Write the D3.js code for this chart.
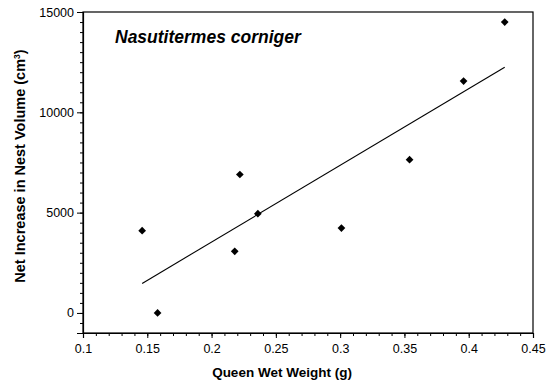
<!DOCTYPE html>
<html lang="en">
<head>
    <title>Nasutitermes corniger</title>
    <script src="https://d3js.org/d3.v7.min.js"></script>
    <style>
        body {
            margin: 0;
            background: white;
        }
        text {
            font-family: "Liberation Sans", Arial, Helvetica, sans-serif;
            fill: #000;
        }
    </style>
</head>
<body>
<svg id="target" width="552" height="383"></svg>
<script type="text/javascript">
    // queen wet weight (g) vs net increase in nest volume (cm3)
    const queenWeight = [0.146, 0.158, 0.218, 0.222, 0.236, 0.301, 0.354, 0.396, 0.428];
    const volumeIncrease = [4100, 0, 3070, 6900, 4950, 4230, 7640, 11560, 14500];
    // fitted line end points
    const fitX = [0.146, 0.428];
    const fitY = [1470, 12250];
    const xTicks = [0.1, 0.15, 0.2, 0.25, 0.3, 0.35, 0.4, 0.45];
    const yTicks = [0, 5000, 10000, 15000];

    const svg = d3.select('#target');
    const margin = {left: 83, right: 19, top: 12, bottom: 50};
    const width = 552, height = 383;

    const x = d3.scaleLinear().domain([0.1, 0.45]).range([margin.left, width - margin.right]);
    const y = d3.scaleLinear().domain([-1000, 15000]).range([height - margin.bottom, margin.top]);

    // frame
    svg.append('rect')
        .attr('x', x(0.1)).attr('y', y(15000))
        .attr('width', x(0.45) - x(0.1)).attr('height', y(-1000) - y(15000))
        .attr('fill', 'none').attr('stroke', '#000').attr('stroke-width', 1.2);

    // x axis
    const xMinor = d3.range(0.1, 0.4501, 0.01);
    svg.append('g')
        .attr('transform', `translate(0,${y(-1000)})`)
        .call(d3.axisBottom(x).tickValues(xMinor).tickSize(3).tickFormat(''))
        .call(g => g.select('.domain').remove())
        .call(g => g.selectAll('line').attr('stroke-width', 1));
    svg.append('g')
        .attr('transform', `translate(0,${y(-1000)})`)
        .call(d3.axisBottom(x).tickValues(xTicks).tickSize(5).tickPadding(6)
            .tickFormat(d => String(+d.toFixed(2))))
        .call(g => g.select('.domain').attr('stroke-width', 1.2))
        .call(g => g.selectAll('text').attr('font-size', 12.5));

    // y axis
    const yMinor = d3.range(-500, 15001, 500);
    svg.append('g')
        .attr('transform', `translate(${x(0.1)},0)`)
        .call(d3.axisLeft(y).tickValues(yMinor).tickSize(3).tickFormat(''))
        .call(g => g.select('.domain').remove());
    svg.append('g')
        .attr('transform', `translate(${x(0.1)},0)`)
        .call(d3.axisLeft(y).tickValues(yTicks).tickSize(6).tickPadding(3).tickFormat(d3.format('d')))
        .call(g => g.select('.domain').attr('stroke-width', 1.2))
        .call(g => g.selectAll('text').attr('font-size', 12.5));

    // regression line
    svg.append('line')
        .attr('x1', x(fitX[0])).attr('y1', y(fitY[0]))
        .attr('x2', x(fitX[1])).attr('y2', y(fitY[1]))
        .attr('stroke', '#000').attr('stroke-width', 1.1);

    // points (diamonds)
    svg.append('g')
        .selectAll('path')
        .data(queenWeight.map((w, i) => [w, volumeIncrease[i]]))
        .join('path')
        .attr('d', d3.symbol(d3.symbolDiamond2, 38))
        .attr('transform', d => `translate(${x(d[0])},${y(d[1])})`)
        .attr('fill', '#000');

    // title inside plot
    svg.append('text')
        .attr('x', 115).attr('y', 43)
        .attr('font-size', 17.5)
        .attr('font-weight', 'bold')
        .attr('font-style', 'italic')
        .text('Nasutitermes corniger');

    // axis titles
    svg.append('text')
        .attr('x', 282).attr('y', 377)
        .attr('text-anchor', 'middle')
        .attr('font-size', 13.5)
        .attr('font-weight', 'bold')
        .text('Queen Wet Weight (g)');

    const yTitle = svg.append('text')
        .attr('transform', 'translate(25,166) rotate(-90)')
        .attr('text-anchor', 'middle')
        .attr('font-size', 14.5)
        .attr('font-weight', 'bold');
    yTitle.append('tspan').text('Net Increase in Nest Volume (cm');
    yTitle.append('tspan').attr('dy', -5).attr('font-size', 8.5).text('3');
    yTitle.append('tspan').attr('dy', 5).text(')');
</script>
</body>
</html>
